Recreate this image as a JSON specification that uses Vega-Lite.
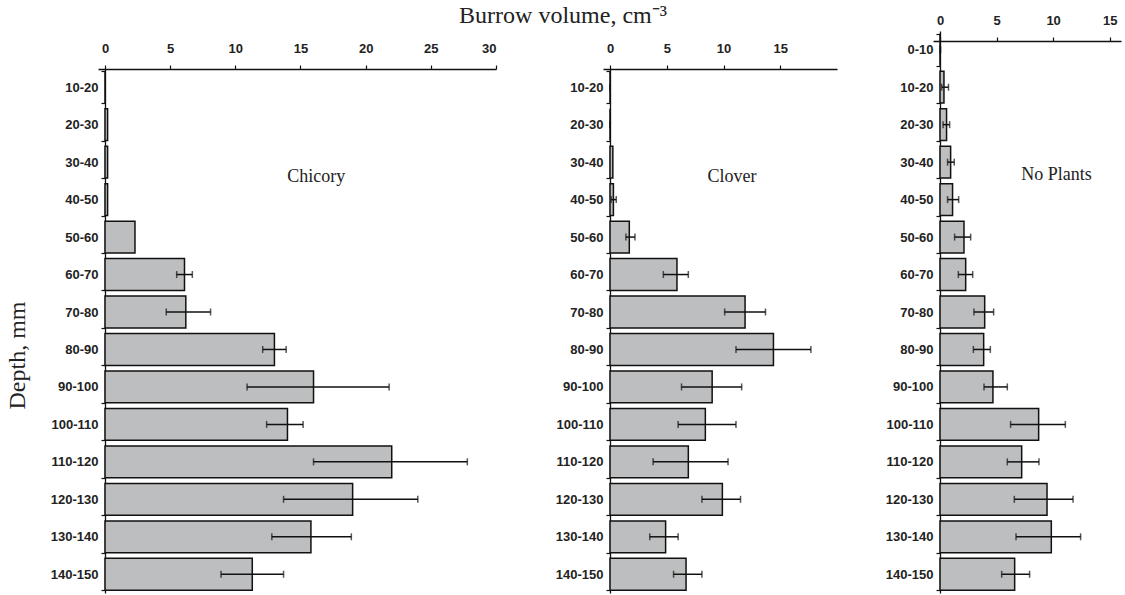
{
  "$schema": "https://vega.github.io/schema/vega-lite/v6.json",
  "padding": {"left": 5, "top": 4, "right": 4, "bottom": 2},
  "title": {"text": "Burrow volume, cm⁻³", "anchor": "middle", "font": "Liberation Serif", "fontSize": 24, "fontWeight": "normal", "color": "#222", "offset": -24},
  "spacing": 30,
  "config": {
    "view": {"stroke": null},
    "axis": {"grid": false, "domainColor": "#111", "domainWidth": 1.3, "tickColor": "#111", "tickWidth": 1.2, "tickSize": 4, "labelFont": "Liberation Sans", "labelFontWeight": "bold", "labelFontSize": 13, "labelColor": "#222", "titleFont": "Liberation Serif", "titleFontWeight": "normal", "titleFontSize": 24, "titleColor": "#222"}
  },
  "datasets": {
    "chicory": [
      {"depth": "10-20", "value": 0},
      {"depth": "20-30", "value": 0.2},
      {"depth": "30-40", "value": 0.2},
      {"depth": "40-50", "value": 0.2},
      {"depth": "50-60", "value": 2.3},
      {"depth": "60-70", "value": 6.1, "lo": 5.5, "hi": 6.7},
      {"depth": "70-80", "value": 6.2, "lo": 4.7, "hi": 8.1},
      {"depth": "80-90", "value": 13.0, "lo": 12.1, "hi": 13.9},
      {"depth": "90-100", "value": 16.0, "lo": 10.9, "hi": 21.8},
      {"depth": "100-110", "value": 14.0, "lo": 12.4, "hi": 15.2},
      {"depth": "110-120", "value": 22.0, "lo": 16.0, "hi": 27.8},
      {"depth": "120-130", "value": 19.0, "lo": 13.7, "hi": 24.0},
      {"depth": "130-140", "value": 15.8, "lo": 12.8, "hi": 18.9},
      {"depth": "140-150", "value": 11.3, "lo": 8.9, "hi": 13.7}
    ],
    "clover": [
      {"depth": "10-20", "value": 0, "lo": 0, "hi": 0.02},
      {"depth": "20-30", "value": 0, "lo": 0, "hi": 0.02},
      {"depth": "30-40", "value": 0.25},
      {"depth": "40-50", "value": 0.3, "lo": 0.1, "hi": 0.55},
      {"depth": "50-60", "value": 1.7, "lo": 1.4, "hi": 2.2},
      {"depth": "60-70", "value": 5.9, "lo": 4.7, "hi": 6.9},
      {"depth": "70-80", "value": 11.9, "lo": 10.1, "hi": 13.7},
      {"depth": "80-90", "value": 14.4, "lo": 11.1, "hi": 17.7},
      {"depth": "90-100", "value": 9.0, "lo": 6.3, "hi": 11.6},
      {"depth": "100-110", "value": 8.4, "lo": 6.0, "hi": 11.1},
      {"depth": "110-120", "value": 6.9, "lo": 3.8, "hi": 10.4},
      {"depth": "120-130", "value": 9.9, "lo": 8.1, "hi": 11.5},
      {"depth": "130-140", "value": 4.9, "lo": 3.5, "hi": 6.0},
      {"depth": "140-150", "value": 6.7, "lo": 5.6, "hi": 8.1}
    ],
    "noplants": [
      {"depth": "0-10", "value": 0, "lo": 0, "hi": 0.05},
      {"depth": "10-20", "value": 0.35, "lo": 0.15, "hi": 0.75},
      {"depth": "20-30", "value": 0.58, "lo": 0.27, "hi": 0.85},
      {"depth": "30-40", "value": 0.94, "lo": 0.67, "hi": 1.26},
      {"depth": "40-50", "value": 1.11, "lo": 0.67, "hi": 1.65},
      {"depth": "50-60", "value": 2.12, "lo": 1.29, "hi": 2.71},
      {"depth": "60-70", "value": 2.27, "lo": 1.62, "hi": 2.89},
      {"depth": "70-80", "value": 3.95, "lo": 3.0, "hi": 4.74},
      {"depth": "80-90", "value": 3.86, "lo": 2.95, "hi": 4.45},
      {"depth": "90-100", "value": 4.68, "lo": 3.89, "hi": 5.95},
      {"depth": "100-110", "value": 8.72, "lo": 6.24, "hi": 11.08},
      {"depth": "110-120", "value": 7.22, "lo": 5.95, "hi": 8.75},
      {"depth": "120-130", "value": 9.46, "lo": 6.57, "hi": 11.76},
      {"depth": "130-140", "value": 9.84, "lo": 6.72, "hi": 12.43},
      {"depth": "140-150", "value": 6.6, "lo": 5.45, "hi": 7.92}
    ]
  },
  "hconcat": [
    {
      "width": 398,
      "height": 583,
      "layer": [
        {
          "data": {"name": "chicory"},
          "mark": {"type": "bar", "fill": "#bdbec0", "stroke": "#111", "strokeWidth": 1.5},
          "encoding": {
            "y": {"field": "depth", "type": "nominal", "sort": null,
              "scale": {"domain": ["10-20","20-30","30-40","40-50","50-60","60-70","70-80","80-90","90-100","100-110","110-120","120-130","130-140","140-150"], "range": [58.47, 583], "paddingInner": 0.15, "paddingOuter": 0.075},
              "axis": {"title": "Depth, mm", "tickBand": "extent", "labelPadding": 3, "offset": -7, "minExtent": 60, "maxExtent": 60, "titlePadding": 16, "titleY": 345}},
            "x": {"field": "value", "type": "quantitative", "scale": {"domain": [-0.537, 30], "nice": false, "zero": false},
              "axis": {"orient": "top", "title": null, "values": [0, 5, 10, 15, 20, 25, 30], "offset": -59, "labelPadding": 10}}
          }
        },
        {
          "data": {"name": "chicory"},
          "mark": {"type": "rule", "color": "#111", "strokeWidth": 1.5},
          "encoding": {
            "y": {"field": "depth", "type": "nominal"},
            "x": {"field": "lo", "type": "quantitative"},
            "x2": {"field": "hi"}
          }
        },
        {
          "data": {"name": "chicory"},
          "mark": {"type": "tick", "size": 7, "thickness": 1.5, "color": "#111"},
          "encoding": {
            "y": {"field": "depth", "type": "nominal"},
            "x": {"field": "lo", "type": "quantitative"}
          }
        },
        {
          "data": {"name": "chicory"},
          "mark": {"type": "tick", "size": 7, "thickness": 1.5, "color": "#111"},
          "encoding": {
            "y": {"field": "depth", "type": "nominal"},
            "x": {"field": "hi", "type": "quantitative"}
          }
        },
        {
          "data": {"values": [{"label": "Chicory", "x": 16.2, "depth": "30-40"}]},
          "mark": {"type": "text", "font": "Liberation Serif", "fontSize": 18, "dy": 15, "color": "#222"},
          "encoding": {
            "y": {"field": "depth", "type": "nominal"},
            "x": {"field": "x", "type": "quantitative"},
            "text": {"field": "label"}
          }
        }
      ]
    },
    {
      "width": 234,
      "height": 583,
      "layer": [
        {
          "data": {"name": "clover"},
          "mark": {"type": "bar", "fill": "#bdbec0", "stroke": "#111", "strokeWidth": 1.5},
          "encoding": {
            "y": {"field": "depth", "type": "nominal", "sort": null,
              "scale": {"domain": ["10-20","20-30","30-40","40-50","50-60","60-70","70-80","80-90","90-100","100-110","110-120","120-130","130-140","140-150"], "range": [58.47, 583], "paddingInner": 0.15, "paddingOuter": 0.075},
              "axis": {"title": null, "tickBand": "extent", "labelPadding": 3, "offset": -7, "minExtent": 82.8, "maxExtent": 82.8}},
            "x": {"field": "value", "type": "quantitative", "scale": {"domain": [-0.617, 20], "nice": false, "zero": false},
              "axis": {"orient": "top", "title": null, "values": [0, 5, 10, 15], "offset": -59, "labelPadding": 10}}
          }
        },
        {
          "data": {"name": "clover"},
          "mark": {"type": "rule", "color": "#111", "strokeWidth": 1.5},
          "encoding": {
            "y": {"field": "depth", "type": "nominal"},
            "x": {"field": "lo", "type": "quantitative"},
            "x2": {"field": "hi"}
          }
        },
        {
          "data": {"name": "clover"},
          "mark": {"type": "tick", "size": 7, "thickness": 1.5, "color": "#111"},
          "encoding": {
            "y": {"field": "depth", "type": "nominal"},
            "x": {"field": "lo", "type": "quantitative"}
          }
        },
        {
          "data": {"name": "clover"},
          "mark": {"type": "tick", "size": 7, "thickness": 1.5, "color": "#111"},
          "encoding": {
            "y": {"field": "depth", "type": "nominal"},
            "x": {"field": "hi", "type": "quantitative"}
          }
        },
        {
          "data": {"values": [{"label": "Clover", "x": 10.75, "depth": "30-40"}]},
          "mark": {"type": "text", "font": "Liberation Serif", "fontSize": 18, "dy": 15, "color": "#222"},
          "encoding": {
            "y": {"field": "depth", "type": "nominal"},
            "x": {"field": "x", "type": "quantitative"},
            "text": {"field": "label"}
          }
        }
      ]
    },
    {
      "width": 188,
      "height": 583,
      "layer": [
        {
          "data": {"name": "noplants"},
          "mark": {"type": "bar", "fill": "#bdbec0", "stroke": "#111", "strokeWidth": 1.5},
          "encoding": {
            "y": {"field": "depth", "type": "nominal", "sort": null,
              "scale": {"domain": ["0-10","10-20","20-30","30-40","40-50","50-60","60-70","70-80","80-90","90-100","100-110","110-120","120-130","130-140","140-150"], "range": [21, 583], "paddingInner": 0.15, "paddingOuter": 0.075},
              "axis": {"title": null, "tickBand": "extent", "labelPadding": 3, "offset": -7, "minExtent": 72.7, "maxExtent": 72.7}},
            "x": {"field": "value", "type": "quantitative", "scale": {"domain": [-0.619, 16], "nice": false, "zero": false},
              "axis": {"orient": "top", "title": null, "values": [0, 5, 10, 15], "offset": -31, "labelPadding": 10}}
          }
        },
        {
          "data": {"name": "noplants"},
          "mark": {"type": "rule", "color": "#111", "strokeWidth": 1.5},
          "encoding": {
            "y": {"field": "depth", "type": "nominal"},
            "x": {"field": "lo", "type": "quantitative"},
            "x2": {"field": "hi"}
          }
        },
        {
          "data": {"name": "noplants"},
          "mark": {"type": "tick", "size": 7, "thickness": 1.5, "color": "#111"},
          "encoding": {
            "y": {"field": "depth", "type": "nominal"},
            "x": {"field": "lo", "type": "quantitative"}
          }
        },
        {
          "data": {"name": "noplants"},
          "mark": {"type": "tick", "size": 7, "thickness": 1.5, "color": "#111"},
          "encoding": {
            "y": {"field": "depth", "type": "nominal"},
            "x": {"field": "hi", "type": "quantitative"}
          }
        },
        {
          "data": {"values": [{"label": "No Plants", "x": 10.3, "depth": "30-40"}]},
          "mark": {"type": "text", "font": "Liberation Serif", "fontSize": 18, "dy": 13, "color": "#222"},
          "encoding": {
            "y": {"field": "depth", "type": "nominal"},
            "x": {"field": "x", "type": "quantitative"},
            "text": {"field": "label"}
          }
        }
      ]
    }
  ]
}
